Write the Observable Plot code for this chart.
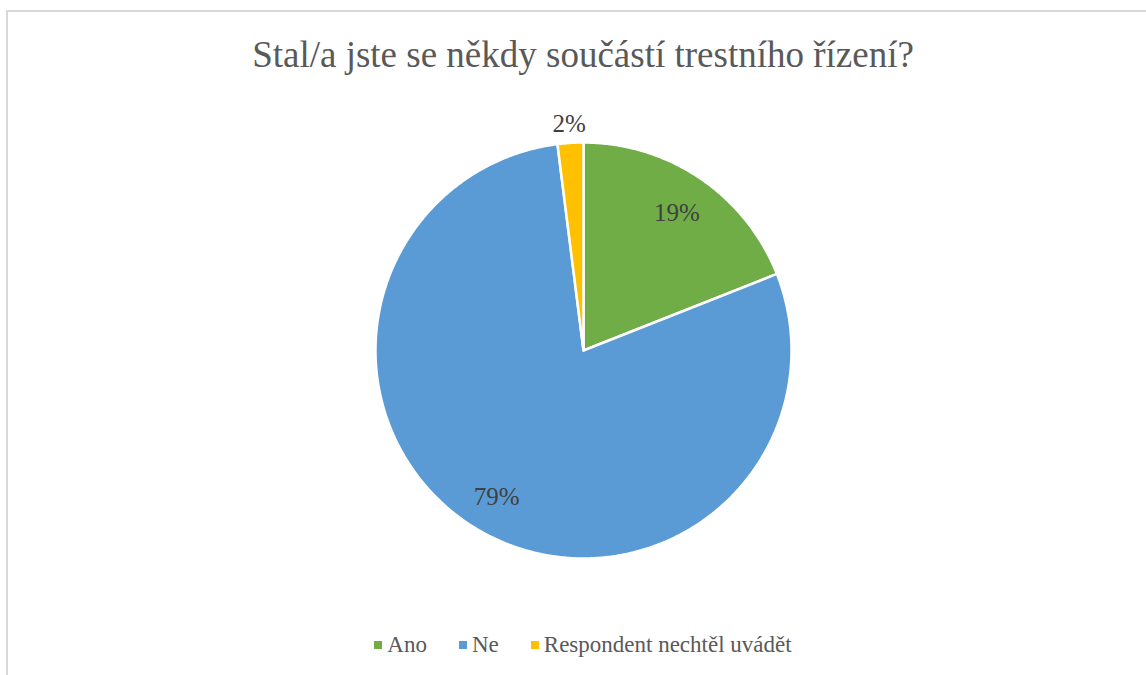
<!DOCTYPE html>
<html>
<head>
<meta charset="utf-8">
<script src="https://cdn.jsdelivr.net/npm/d3@7"></script>
<script src="https://cdn.jsdelivr.net/npm/@observablehq/plot@0.6"></script>
<style>
  html, body { margin: 0; padding: 0; background: #fff; }
  #wrap { position: relative; width: 1146px; height: 675px; overflow: hidden; font-family: "Liberation Serif", "DejaVu Serif", "Noto Serif", serif; }
  #frame { position: absolute; left: 6px; top: 10px; width: 1200px; height: 800px; border-top: 2px solid #d9d9d9; border-left: 2px solid #d9d9d9; box-sizing: border-box; }
  #title { position: absolute; left: 0; top: 0; width: 1166px; height: 90px; text-align: center; font-size: 37px; line-height: 110px; color: #595959; }
  #chart { position: absolute; left: 0; top: 90px; }
  #legend { position: absolute; left: 0; top: 620px; width: 1166px; height: 50px; display: flex; justify-content: center; align-items: center; font-size: 23px; color: #595959; }
  .item { display: flex; align-items: center; margin: 0 16px; }
  .sw { width: 8px; height: 8px; margin-right: 5px; }
</style>
</head>
<body>
<div id="wrap">
  <div id="frame"></div>
  <div id="title"></div>
  <div id="chart"></div>
  <div id="legend"></div>
</div>
<script>
const title = "Stal/a jste se někdy součástí trestního řízení?";
const categories = ["Ano", "Ne", "Respondent nechtěl uvádět"];
const values = [19, 79, 2];
const colors = ["#70AD47", "#5B9BD5", "#FFC000"];
const labelRadius = [0.8, 0.82, 1.09];

document.getElementById("title").textContent = title;

const W = 1146, H = 530, R = 208, cx = 583, cy = 260;

const arcs = d3.pie().sort(null).value(d => d.value)(categories.map((c, i) => ({key: c, value: values[i]})));

const pts = [];
arcs.forEach(a => {
  const key = a.data.key;
  pts.push({key, x: 0, y: 0});
  const n = Math.max(2, Math.ceil((a.endAngle - a.startAngle) / (Math.PI / 360)));
  for (let k = 0; k <= n; k++) {
    const t = a.startAngle + (a.endAngle - a.startAngle) * k / n;
    pts.push({key, x: Math.sin(t), y: -Math.cos(t)});
  }
  pts.push({key, x: 0, y: 0});
});

const labels = arcs.map((a, i) => {
  const m = (a.startAngle + a.endAngle) / 2;
  return {text: a.data.value + "%", x: labelRadius[i] * Math.sin(m), y: -labelRadius[i] * Math.cos(m)};
});

const plot = Plot.plot({
  width: W,
  height: H,
  margin: 0,
  x: {domain: [-cx / R, (W - cx) / R], range: [0, W], axis: null},
  y: {domain: [-cy / R, (H - cy) / R], range: [0, H], axis: null},
  color: {domain: categories, range: colors},
  style: {background: "transparent"},
  marks: [
    Plot.line(pts, {x: "x", y: "y", z: "key", fill: "key", stroke: "white", strokeWidth: 2.5, strokeLinejoin: "miter", strokeMiterlimit: 4}),
    Plot.text(labels, {x: "x", y: "y", text: "text", fontSize: 25, fill: "#404040", fontFamily: "'Liberation Serif', 'DejaVu Serif', 'Noto Serif', serif"})
  ]
});
document.getElementById("chart").appendChild(plot);

const legend = document.getElementById("legend");
categories.forEach((c, i) => {
  const it = document.createElement("div");
  it.className = "item";
  const sw = document.createElement("div");
  sw.className = "sw";
  sw.style.background = colors[i];
  const tx = document.createElement("span");
  tx.textContent = c;
  it.appendChild(sw); it.appendChild(tx);
  legend.appendChild(it);
});
</script>
</body>
</html>
